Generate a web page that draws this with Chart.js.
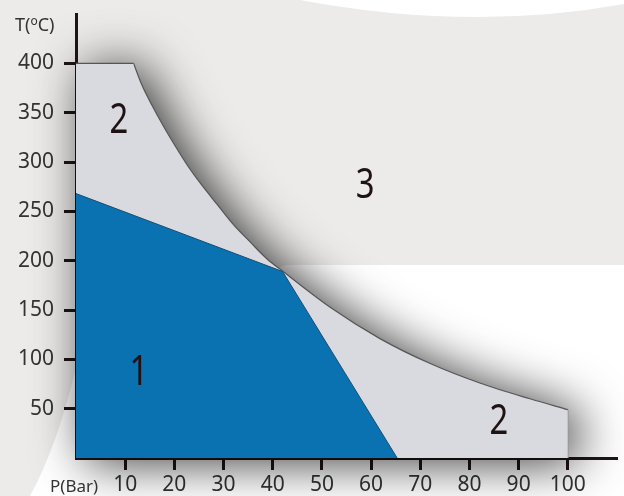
<!DOCTYPE html>
<html>
<head>
<meta charset="utf-8">
<script src="https://cdn.jsdelivr.net/npm/chart.js@4.4.1/dist/chart.umd.min.js"></script>
<style>
  html, body { margin: 0; padding: 0; background: #ecebea; }
  #wrap { width: 624px; height: 496px; }
</style>
</head>
<body>
<div id="wrap"><canvas id="chart" width="624" height="496"></canvas></div>
<script>
// axis ticks
const pTicks = [10, 20, 30, 40, 50, 60, 70, 80, 90, 100];
const tTicks = [50, 100, 150, 200, 250, 300, 350, 400];

// zone 1 (blue)
const zone1P = [0, 42, 65.3];
const zone1T = [268, 189, 0];

// zone 2 (grey): flat top, then the curved edge, then the wall at 100 bar
const zone2TopP = [0, 11.7];
const zone2TopT = [400, 400];
const zone2CurveP = [11.7, 13.4, 15.5, 17.7, 20.2, 22.6, 25.2, 28.7, 32.1, 35.4, 38.8, 42.1, 51.6, 61.8, 71.9, 82.1, 92.3, 100];
const zone2CurveT = [400, 378, 357, 337, 316, 297, 279, 257, 236, 219, 202, 189, 153, 121, 96, 76, 60, 49];
const zone2EdgeP = [100, 100];
const zone2EdgeT = [49, 0];

// zone numbers
const zoneNames = ["2", "3", "1", "2"];
const zoneNameP = [8.7, 58.8, 12.8, 86];
const zoneNameT = [345, 279, 89, 40];

const axisColor = "#1f1515";
const textColor = "#333333";

const pts = (xs, ys) => xs.map((x, i) => ({ x: x, y: ys[i] }));

// page background with the white patches
const backdrop = {
    id: "backdrop",
    beforeDraw(chart) {
        const ctx = chart.ctx;
        ctx.save();
        ctx.fillStyle = "#ecebea";
        ctx.fillRect(0, 0, chart.width, chart.height);
        ctx.fillStyle = "#ffffff";
        ctx.beginPath();
        ctx.moveTo(300, 0);
        ctx.quadraticCurveTo(470, 32, 624, 4);
        ctx.lineTo(624, 0);
        ctx.closePath();
        ctx.fill();
        ctx.beginPath();
        ctx.moveTo(30, 496);
        ctx.quadraticCurveTo(58, 445, 78, 360);
        ctx.lineTo(285, 265);
        ctx.lineTo(624, 265);
        ctx.lineTo(624, 496);
        ctx.closePath();
        ctx.fill();
        ctx.restore();
    }
};

// soft shadow under the grey zone
const dropShadow = {
    id: "dropShadow",
    beforeDatasetsDraw(chart) {
        const ctx = chart.ctx;
        const base = chart.scales.y.getPixelForValue(0);
        ctx.save();
        ctx.beginPath();
        chart.data.datasets.forEach((ds, i) => {
            if (!ds.shadow) return;
            const meta = chart.getDatasetMeta(i);
            const p = meta.data;
            meta.dataset.path(ctx);
            ctx.lineTo(p[p.length - 1].x, base);
            ctx.lineTo(p[0].x, base);
            ctx.closePath();
        });
        ctx.shadowColor = "rgba(0,0,0,0.8)";
        ctx.shadowBlur = 50;
        ctx.shadowOffsetX = 10;
        ctx.shadowOffsetY = 4;
        ctx.fillStyle = "#d9dadf";
        ctx.fill();
        ctx.restore();
    }
};

// zone numbers and axis titles
const captions = {
    id: "captions",
    afterDatasetsDraw(chart) {
        const { ctx, scales: { x, y } } = chart;
        ctx.save();
        ctx.fillStyle = "#1e1212";
        ctx.font = '42px "Noto Sans", sans-serif';
        ctx.textAlign = "center";
        ctx.textBaseline = "alphabetic";
        zoneNames.forEach((name, i) => {
            ctx.save();
            ctx.translate(x.getPixelForValue(zoneNameP[i]), y.getPixelForValue(zoneNameT[i]) + 15);
            ctx.scale(0.78, 1);
            ctx.fillText(name, 0, 0);
            ctx.restore();
        });
        ctx.restore();
    },
    afterDraw(chart) {
        const ctx = chart.ctx;
        ctx.save();
        ctx.fillStyle = textColor;
        ctx.textAlign = "left";
        ctx.textBaseline = "alphabetic";
        ctx.font = '18px "Noto Sans", sans-serif';
        let cx = 15;
        ctx.fillText("T(", cx, 31);
        cx += ctx.measureText("T(").width;
        ctx.font = '12px "Noto Sans", sans-serif';
        ctx.fillText("o", cx, 25);
        cx += ctx.measureText("o").width;
        ctx.font = '18px "Noto Sans", sans-serif';
        ctx.fillText("C)", cx, 31);
        ctx.font = '17px "Noto Sans", sans-serif';
        ctx.fillText("P(Bar)", 50, 492);
        ctx.restore();
    }
};

const ctx = document.getElementById("chart").getContext("2d");
new Chart(ctx, {
    type: "line",
    data: {
        datasets: [
            {
                label: "zone 1",
                data: pts(zone1P, zone1T),
                backgroundColor: "#0a72b0",
                borderColor: "#1c4d70",
                borderWidth: 1,
                fill: "origin",
                pointRadius: 0
            },
            {
                label: "zone 2 top",
                data: pts(zone2TopP, zone2TopT),
                backgroundColor: "#d9dadf",
                borderColor: "#555555",
                borderWidth: 1.2,
                fill: "origin",
                pointRadius: 0,
                shadow: true
            },
            {
                label: "zone 2 curve",
                data: pts(zone2CurveP, zone2CurveT),
                backgroundColor: "#d9dadf",
                borderColor: "#555555",
                borderWidth: 1.2,
                cubicInterpolationMode: "monotone",
                fill: "origin",
                pointRadius: 0,
                shadow: true
            },
            {
                label: "zone 2 wall",
                data: pts(zone2EdgeP, zone2EdgeT),
                borderColor: "#9a9a9a",
                borderWidth: 1,
                fill: false,
                pointRadius: 0
            }
        ]
    },
    options: {
        responsive: false,
        animation: false,
        layout: { padding: { top: 14, right: 7, left: 0, bottom: 0 } },
        plugins: {
            legend: { display: false },
            tooltip: { enabled: false }
        },
        scales: {
            x: {
                type: "linear",
                min: 0,
                max: 110,
                z: 1,
                afterBuildTicks: s => { s.ticks = pTicks.map(v => ({ value: v })); },
                afterFit: s => { s.height = 38; s.paddingLeft = 0; s.paddingRight = 0; },
                grid: { drawOnChartArea: false, drawTicks: true, tickLength: 12, tickWidth: 3, tickColor: axisColor },
                border: { display: true, width: 3, color: axisColor },
                ticks: { color: textColor, font: { family: "Noto Sans", size: 21 }, padding: 2, maxRotation: 0, autoSkip: false }
            },
            y: {
                type: "linear",
                min: 0,
                max: 450,
                z: 1,
                afterBuildTicks: s => { s.ticks = tTicks.map(v => ({ value: v })); },
                afterFit: s => { s.width = 76; s.paddingTop = 0; s.paddingBottom = 0; },
                grid: { drawOnChartArea: false, drawTicks: true, tickLength: 12, tickWidth: 3, tickColor: axisColor },
                border: { display: true, width: 3, color: axisColor },
                ticks: { color: textColor, font: { family: "Noto Sans", size: 21 }, padding: 10, autoSkip: false }
            }
        }
    },
    plugins: [backdrop, dropShadow, captions]
});
</script>
</body>
</html>
